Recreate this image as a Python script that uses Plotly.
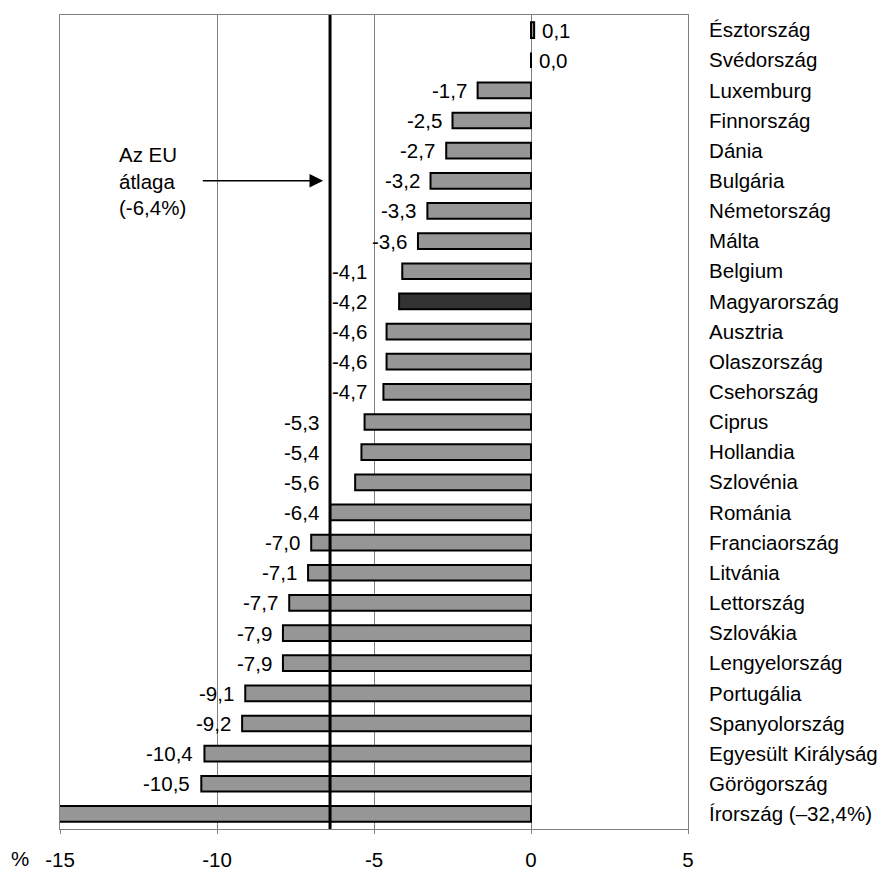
import plotly.graph_objects as go

countries = ["Észtország", "Svédország", "Luxemburg", "Finnország", "Dánia", "Bulgária",
             "Németország", "Málta", "Belgium", "Magyarország", "Ausztria", "Olaszország",
             "Csehország", "Ciprus", "Hollandia", "Szlovénia", "Románia", "Franciaország",
             "Litvánia", "Lettország", "Szlovákia", "Lengyelország", "Portugália",
             "Spanyolország", "Egyesült Királyság", "Görögország", "Írország (–32,4%)"]
values = [0.1, 0.0, -1.7, -2.5, -2.7, -3.2, -3.3, -3.6, -4.1, -4.2, -4.6, -4.6, -4.7,
          -5.3, -5.4, -5.6, -6.4, -7.0, -7.1, -7.7, -7.9, -7.9, -9.1, -9.2, -10.4, -10.5, -32.4]
eu_avg = -6.4
x_ticks = [-15, -10, -5, 0, 5]
highlight = "Magyarország"

FONT = "Liberation Sans, Arial, sans-serif"
FS = 20.5

colors = ["#333333" if c == highlight else "#969696" for c in countries]

fig = go.Figure()
fig.add_trace(go.Bar(
    x=values, y=countries, orientation="h",
    marker=dict(color=colors, line=dict(color="black", width=2)),
    width=0.52, hoverinfo="skip",
))

lab_font = dict(size=FS, color="black", family=FONT)
annotations = []
for c, v in zip(countries, values):
    if v < -15:
        continue
    txt = f"{v:.1f}".replace(".", ",")
    if v >= 0:
        annotations.append(dict(x=max(v, 0), y=c, text=txt, xanchor="left", xshift=6,
                                showarrow=False, font=lab_font))
    elif -4.8 < v < -4.0:
        # label moved to the right of the EU-average line
        annotations.append(dict(x=eu_avg, y=c, text=txt, xanchor="left", xshift=0,
                                showarrow=False, font=lab_font))
    elif eu_avg < v <= -4.8:
        # label moved to the left of the EU-average line
        annotations.append(dict(x=eu_avg, y=c, text=txt, xanchor="right", xshift=-9,
                                showarrow=False, font=lab_font))
    else:
        annotations.append(dict(x=v, y=c, text=txt, xanchor="right", xshift=-9,
                                showarrow=False, font=lab_font))

# EU average label + arrow
annotations.append(dict(x=-13.2, y="Bulgária", text="Az EU<br>átlaga<br>(-6,4%)",
                        xanchor="left", align="left", showarrow=False, font=lab_font))
annotations.append(dict(x=-6.62, y="Bulgária", ax=-10.5, ay="Bulgária", axref="x", ayref="y",
                        xref="x", yref="y", text="", showarrow=True, arrowhead=2,
                        arrowsize=1.7, arrowwidth=1.6, arrowcolor="black"))
annotations.append(dict(x=-0.082, y=-0.036, xref="paper", yref="paper", text="%",
                        xanchor="left", yanchor="middle", showarrow=False, font=lab_font))

fig.add_shape(type="line", x0=eu_avg, x1=eu_avg, y0=0, y1=1, xref="x", yref="paper",
              line=dict(color="black", width=3), layer="above")

fig.update_layout(
    width=879, height=869,
    margin=dict(l=52, r=199, t=6, b=41),
    paper_bgcolor="white", plot_bgcolor="white",
    showlegend=False,
    annotations=annotations,
    font=dict(family=FONT, size=FS, color="black"),
    xaxis=dict(range=[-15, 5], tickvals=x_ticks, ticktext=[str(t) for t in x_ticks],
               showgrid=True, gridcolor="#808080", gridwidth=1,
               showline=True, linecolor="#808080", linewidth=1, mirror=True,
               ticks="outside", ticklen=4, tickcolor="#808080",
               ticklabelstandoff=8, zeroline=False,
               tickfont=lab_font),
    yaxis=dict(categoryorder="array", categoryarray=countries, autorange="reversed",
               side="right", showline=True, linecolor="#808080", linewidth=1, mirror=True,
               ticks="", showgrid=False, ticklabelstandoff=16,
               tickfont=lab_font),
)

fig.write_html("out.html")
